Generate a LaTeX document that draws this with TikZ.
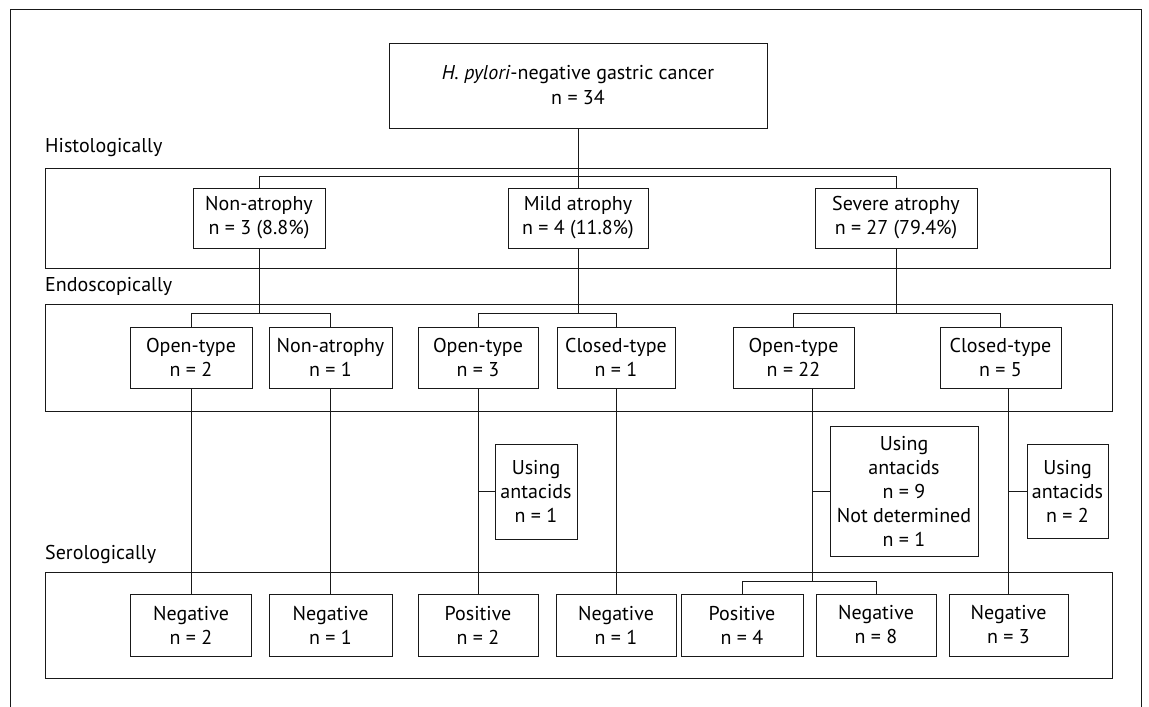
\documentclass[tikz,border=0pt]{standalone}
\usepackage{fontspec}
\setmainfont{PT Sans}
\begin{document}
\begin{tikzpicture}[x=1pt,y=-1pt,
  every node/.style={font=\fontsize{20}{24}\selectfont},
  bx/.style={draw=black!90,line width=1pt,align=center,inner sep=0pt,fill=white},
  band/.style={draw=black!90,line width=1pt,inner sep=0pt},
  lbl/.style={anchor=west,inner sep=0pt},
  ln/.style={draw=black!90,line width=1pt}]
\useasboundingbox (0,0) rectangle (1149,707);
% outer frame
\draw[ln] (10,707) -- (10,9) -- (1141,9) -- (1141,707);
% bands
\node[band,minimum width=1065,minimum height=100] (hband) at (577.5,218) {};
\node[band,minimum width=1067,minimum height=107] (eband) at (578.5,357.5) {};
\node[band,minimum width=1067,minimum height=106] (sband) at (578.5,625) {};
% labels
\node[lbl] (lh) at (45,148) {Histologically};
\node[lbl] (le) at (45,286) {Endoscopically};
\node[lbl] (ls) at (45,554) {Serologically};
% top
\node[bx,minimum width=378,minimum height=85] (top) at (578,85.5) {\textit{H. pylori}-negative gastric cancer\\[1pt]n = 34};
% histology
\node[bx,minimum width=132,minimum height=60] (nonat) at (259,218) {Non-atrophy\\n = 3 (8.8\%)};
\node[bx,minimum width=140,minimum height=60] (mild) at (578,218) {Mild atrophy\\n = 4 (11.8\%)};
\node[bx,minimum width=162,minimum height=60] (severe) at (896,218) {Severe atrophy\\n = 27 (79.4\%)};
% endoscopy
\node[bx,minimum width=122,minimum height=61] (open2) at (191,357.5) {Open-type\\n = 2};
\node[bx,minimum width=123,minimum height=61] (nonat1) at (330.5,357.5) {Non-atrophy\\n = 1};
\node[bx,minimum width=120,minimum height=61] (open3) at (478,357.5) {Open-type\\n = 3};
\node[bx,minimum width=118,minimum height=61] (closed1) at (616,357.5) {Closed-type\\n = 1};
\node[bx,minimum width=121,minimum height=61] (open22) at (793.5,357.5) {Open-type\\n = 22};
\node[bx,minimum width=121,minimum height=61] (closed5) at (1000.5,357.5) {Closed-type\\n = 5};
% antacids
\node[bx,minimum width=82,minimum height=95] (ant1) at (536,491.5) {Using\\antacids\\n = 1};
\node[bx,minimum width=148,minimum height=130] (ant9) at (904,491) {Using\\antacids\\n = 9\\Not determined\\n = 1};
\node[bx,minimum width=81,minimum height=94] (ant2) at (1067.5,491) {Using\\antacids\\n = 2};
% serology
\node[bx,minimum width=121,minimum height=62] (neg2) at (191,625) {Negative\\n = 2};
\node[bx,minimum width=123,minimum height=62] (neg1a) at (330.5,625) {Negative\\n = 1};
\node[bx,minimum width=120,minimum height=62] (pos2) at (478,625) {Positive\\n = 2};
\node[bx,minimum width=120,minimum height=62] (neg1b) at (616,625) {Negative\\n = 1};
\node[bx,minimum width=122,minimum height=62] (pos4) at (742,625) {Positive\\n = 4};
\node[bx,minimum width=120,minimum height=62] (neg8) at (876,625) {Negative\\n = 8};
\node[bx,minimum width=119,minimum height=62] (neg3) at (1008.5,625) {Negative\\n = 3};
% junction coordinates
\coordinate (j1) at (259,314);
\coordinate (j2) at (578,314);
\coordinate (j3) at (896,314);
\coordinate (j22) at (812,582);
% connectors: top -> histology
\draw[ln] (top.south) -- (mild.north);
\draw[ln] (nonat.north) -- ++(0,-11) -| (severe.north);
% histology -> endoscopy
\draw[ln] (nonat.south) -- (j1);
\draw[ln] (open2.north) -- ++(0,-13.5) -| (nonat1.north);
\draw[ln] (mild.south) -- (j2);
\draw[ln] (open3.north) -- ++(0,-13.5) -| (closed1.north);
\draw[ln] (severe.south) -- (j3);
\draw[ln] (open22.north) -- ++(0,-13.5) -| (closed5.north);
% endoscopy -> serology
\draw[ln] (open2.south) -- (neg2.north);
\draw[ln] (nonat1.south) -- (neg1a.north);
\draw[ln] (open3.south) -- (pos2.north);
\draw[ln] (closed1.south) -- (neg1b.north);
\draw[ln] (open22.south -| j22) -- (j22);
\draw[ln] (pos4.north) -- ++(0,-12) -| (neg8.north);
\draw[ln] (closed5.south -| neg3.north) -- (neg3.north);
% antacid side links
\draw[ln] (ant1.west) -- (ant1.west -| open3.south);
\draw[ln] (ant9.west) -- (ant9.west -| j22);
\draw[ln] (ant2.west) -- (ant2.west -| neg3.north);
\end{tikzpicture}
\end{document}
